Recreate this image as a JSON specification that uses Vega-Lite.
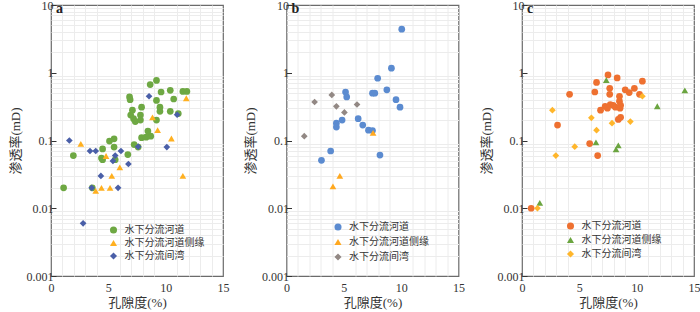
{
  "$schema": "https://vega.github.io/schema/vega-lite/v6.json",
  "padding": {"left": 8, "top": -2, "right": 0, "bottom": 0},
  "background": "white",
  "data": {"values": [
    {"p":"a","t":"水下分流河道","por":1.1,"perm":0.02},
    {"p":"a","t":"水下分流河道","por":1.95,"perm":0.06},
    {"p":"a","t":"水下分流河道","por":3.6,"perm":0.02},
    {"p":"a","t":"水下分流河道","por":4.4,"perm":0.055},
    {"p":"a","t":"水下分流河道","por":4.5,"perm":0.075},
    {"p":"a","t":"水下分流河道","por":4.5,"perm":0.052},
    {"p":"a","t":"水下分流河道","por":5.1,"perm":0.098},
    {"p":"a","t":"水下分流河道","por":5.5,"perm":0.106},
    {"p":"a","t":"水下分流河道","por":5.5,"perm":0.08},
    {"p":"a","t":"水下分流河道","por":5.6,"perm":0.052},
    {"p":"a","t":"水下分流河道","por":6.7,"perm":0.062},
    {"p":"a","t":"水下分流河道","por":7.25,"perm":0.087},
    {"p":"a","t":"水下分流河道","por":7.6,"perm":0.08},
    {"p":"a","t":"水下分流河道","por":7.9,"perm":0.11},
    {"p":"a","t":"水下分流河道","por":8.3,"perm":0.112},
    {"p":"a","t":"水下分流河道","por":8.7,"perm":0.116},
    {"p":"a","t":"水下分流河道","por":8.45,"perm":0.138},
    {"p":"a","t":"水下分流河道","por":6.95,"perm":0.237},
    {"p":"a","t":"水下分流河道","por":7.2,"perm":0.21},
    {"p":"a","t":"水下分流河道","por":7.35,"perm":0.19},
    {"p":"a","t":"水下分流河道","por":7.8,"perm":0.237},
    {"p":"a","t":"水下分流河道","por":7.8,"perm":0.2},
    {"p":"a","t":"水下分流河道","por":7.9,"perm":0.31},
    {"p":"a","t":"水下分流河道","por":7.1,"perm":0.28},
    {"p":"a","t":"水下分流河道","por":6.85,"perm":0.44},
    {"p":"a","t":"水下分流河道","por":6.9,"perm":0.4},
    {"p":"a","t":"水下分流河道","por":8.65,"perm":0.67},
    {"p":"a","t":"水下分流河道","por":9.2,"perm":0.77},
    {"p":"a","t":"水下分流河道","por":9.6,"perm":0.52},
    {"p":"a","t":"水下分流河道","por":10.4,"perm":0.55},
    {"p":"a","t":"水下分流河道","por":10.7,"perm":0.41},
    {"p":"a","t":"水下分流河道","por":9.2,"perm":0.39},
    {"p":"a","t":"水下分流河道","por":11.5,"perm":0.53},
    {"p":"a","t":"水下分流河道","por":11.85,"perm":0.53},
    {"p":"a","t":"水下分流河道","por":9.5,"perm":0.31},
    {"p":"a","t":"水下分流河道","por":9.5,"perm":0.27},
    {"p":"a","t":"水下分流河道","por":10.4,"perm":0.27},
    {"p":"a","t":"水下分流河道","por":9.2,"perm":0.2},
    {"p":"a","t":"水下分流河道","por":11.1,"perm":0.25},
    {"p":"a","t":"水下分流河道侧缘","por":2.6,"perm":0.089},
    {"p":"a","t":"水下分流河道侧缘","por":4.8,"perm":0.059},
    {"p":"a","t":"水下分流河道侧缘","por":6.0,"perm":0.04},
    {"p":"a","t":"水下分流河道侧缘","por":5.3,"perm":0.03},
    {"p":"a","t":"水下分流河道侧缘","por":11.5,"perm":0.03},
    {"p":"a","t":"水下分流河道侧缘","por":3.9,"perm":0.018},
    {"p":"a","t":"水下分流河道侧缘","por":4.4,"perm":0.02},
    {"p":"a","t":"水下分流河道侧缘","por":5.15,"perm":0.02},
    {"p":"a","t":"水下分流河道侧缘","por":8.85,"perm":0.22},
    {"p":"a","t":"水下分流河道侧缘","por":9.3,"perm":0.142},
    {"p":"a","t":"水下分流河道侧缘","por":10.5,"perm":0.107},
    {"p":"a","t":"水下分流河道侧缘","por":11.8,"perm":0.42},
    {"p":"a","t":"水下分流间湾","por":1.6,"perm":0.1},
    {"p":"a","t":"水下分流间湾","por":3.4,"perm":0.07},
    {"p":"a","t":"水下分流间湾","por":3.9,"perm":0.07},
    {"p":"a","t":"水下分流间湾","por":6.1,"perm":0.07},
    {"p":"a","t":"水下分流间湾","por":7.6,"perm":0.081},
    {"p":"a","t":"水下分流间湾","por":10.1,"perm":0.08},
    {"p":"a","t":"水下分流间湾","por":5.6,"perm":0.06},
    {"p":"a","t":"水下分流间湾","por":5.4,"perm":0.05},
    {"p":"a","t":"水下分流间湾","por":6.75,"perm":0.045},
    {"p":"a","t":"水下分流间湾","por":4.35,"perm":0.03},
    {"p":"a","t":"水下分流间湾","por":3.55,"perm":0.02},
    {"p":"a","t":"水下分流间湾","por":5.85,"perm":0.02},
    {"p":"a","t":"水下分流间湾","por":2.8,"perm":0.006},
    {"p":"a","t":"水下分流间湾","por":8.55,"perm":0.45},
    {"p":"a","t":"水下分流间湾","por":11.0,"perm":0.24},
    {"p":"b","t":"水下分流河道","por":10.05,"perm":4.4},
    {"p":"b","t":"水下分流河道","por":9.15,"perm":1.17},
    {"p":"b","t":"水下分流河道","por":7.95,"perm":0.83},
    {"p":"b","t":"水下分流河道","por":8.75,"perm":0.56},
    {"p":"b","t":"水下分流河道","por":7.5,"perm":0.5},
    {"p":"b","t":"水下分流河道","por":7.7,"perm":0.5},
    {"p":"b","t":"水下分流河道","por":5.15,"perm":0.52},
    {"p":"b","t":"水下分流河道","por":5.25,"perm":0.44},
    {"p":"b","t":"水下分流河道","por":9.55,"perm":0.4},
    {"p":"b","t":"水下分流河道","por":9.9,"perm":0.31},
    {"p":"b","t":"水下分流河道","por":4.85,"perm":0.2},
    {"p":"b","t":"水下分流河道","por":4.35,"perm":0.18},
    {"p":"b","t":"水下分流河道","por":4.35,"perm":0.158},
    {"p":"b","t":"水下分流河道","por":6.25,"perm":0.21},
    {"p":"b","t":"水下分流河道","por":6.65,"perm":0.169},
    {"p":"b","t":"水下分流河道","por":7.15,"perm":0.142},
    {"p":"b","t":"水下分流河道","por":7.5,"perm":0.14},
    {"p":"b","t":"水下分流河道","por":3.85,"perm":0.07},
    {"p":"b","t":"水下分流河道","por":3.05,"perm":0.051},
    {"p":"b","t":"水下分流河道","por":8.15,"perm":0.061},
    {"p":"b","t":"水下分流河道侧缘","por":7.55,"perm":0.13},
    {"p":"b","t":"水下分流河道侧缘","por":4.65,"perm":0.03},
    {"p":"b","t":"水下分流河道侧缘","por":4.05,"perm":0.021},
    {"p":"b","t":"水下分流间湾","por":2.45,"perm":0.37},
    {"p":"b","t":"水下分流间湾","por":3.95,"perm":0.47},
    {"p":"b","t":"水下分流间湾","por":4.35,"perm":0.32},
    {"p":"b","t":"水下分流间湾","por":5.05,"perm":0.26},
    {"p":"b","t":"水下分流间湾","por":6.15,"perm":0.34},
    {"p":"b","t":"水下分流间湾","por":1.55,"perm":0.116},
    {"p":"c","t":"水下分流河道","por":7.5,"perm":0.93},
    {"p":"c","t":"水下分流河道","por":8.3,"perm":0.84},
    {"p":"c","t":"水下分流河道","por":6.5,"perm":0.72},
    {"p":"c","t":"水下分流河道","por":10.5,"perm":0.75},
    {"p":"c","t":"水下分流河道","por":4.15,"perm":0.48},
    {"p":"c","t":"水下分流河道","por":6.35,"perm":0.52},
    {"p":"c","t":"水下分流河道","por":7.65,"perm":0.59},
    {"p":"c","t":"水下分流河道","por":7.65,"perm":0.48},
    {"p":"c","t":"水下分流河道","por":9.0,"perm":0.56},
    {"p":"c","t":"水下分流河道","por":9.35,"perm":0.51},
    {"p":"c","t":"水下分流河道","por":9.8,"perm":0.59},
    {"p":"c","t":"水下分流河道","por":10.25,"perm":0.48},
    {"p":"c","t":"水下分流河道","por":8.5,"perm":0.45},
    {"p":"c","t":"水下分流河道","por":8.5,"perm":0.38},
    {"p":"c","t":"水下分流河道","por":6.85,"perm":0.28},
    {"p":"c","t":"水下分流河道","por":7.25,"perm":0.32},
    {"p":"c","t":"水下分流河道","por":7.7,"perm":0.34},
    {"p":"c","t":"水下分流河道","por":8.15,"perm":0.31},
    {"p":"c","t":"水下分流河道","por":8.55,"perm":0.3},
    {"p":"c","t":"水下分流河道","por":7.45,"perm":0.3},
    {"p":"c","t":"水下分流河道","por":7.95,"perm":0.33},
    {"p":"c","t":"水下分流河道","por":8.6,"perm":0.33},
    {"p":"c","t":"水下分流河道","por":8.4,"perm":0.205},
    {"p":"c","t":"水下分流河道","por":8.6,"perm":0.22},
    {"p":"c","t":"水下分流河道","por":3.1,"perm":0.169},
    {"p":"c","t":"水下分流河道","por":5.9,"perm":0.09},
    {"p":"c","t":"水下分流河道","por":6.6,"perm":0.06},
    {"p":"c","t":"水下分流河道","por":0.8,"perm":0.01},
    {"p":"c","t":"水下分流河道侧缘","por":7.35,"perm":0.78},
    {"p":"c","t":"水下分流河道侧缘","por":14.2,"perm":0.55},
    {"p":"c","t":"水下分流河道侧缘","por":11.8,"perm":0.32},
    {"p":"c","t":"水下分流河道侧缘","por":6.45,"perm":0.094},
    {"p":"c","t":"水下分流河道侧缘","por":8.4,"perm":0.085},
    {"p":"c","t":"水下分流河道侧缘","por":8.2,"perm":0.074},
    {"p":"c","t":"水下分流河道侧缘","por":1.55,"perm":0.012},
    {"p":"c","t":"水下分流间湾","por":2.65,"perm":0.28},
    {"p":"c","t":"水下分流间湾","por":6.05,"perm":0.216},
    {"p":"c","t":"水下分流间湾","por":6.5,"perm":0.142},
    {"p":"c","t":"水下分流间湾","por":7.85,"perm":0.18},
    {"p":"c","t":"水下分流间湾","por":9.45,"perm":0.19},
    {"p":"c","t":"水下分流间湾","por":10.5,"perm":0.45},
    {"p":"c","t":"水下分流间湾","por":4.6,"perm":0.081},
    {"p":"c","t":"水下分流间湾","por":2.95,"perm":0.06},
    {"p":"c","t":"水下分流间湾","por":1.35,"perm":0.01}
  ]},
  "spacing": 13.5,
  "hconcat": [
    {
      "width": 172, "height": 271,
      "title": {"text": "a", "anchor": "start", "frame": "group", "offset": 0, "dy": 17, "dx": 5},
      "transform": [{"filter": "datum.p === 'a'"}],
      "layer": [
        {
          "mark": {"type": "point", "opacity": 0},
          "encoding": {
            "x": {"field": "por", "type": "quantitative", "scale": {"domain": [0, 15], "nice": false}, "axis": {"orient": "top", "title": null, "labels": false, "ticks": false, "domain": false, "values": [1,2,3,4,6,7,8,9,11,12,13,14], "gridColor": "#ececec"}},
            "y": {"field": "perm", "type": "quantitative", "scale": {"type": "log", "domain": [0.001, 10], "nice": false}, "axis": {"orient": "right", "title": null, "labels": false, "ticks": false, "domain": false, "values": [0.002,0.003,0.004,0.005,0.006,0.007,0.008,0.009,0.02,0.03,0.04,0.05,0.06,0.07,0.08,0.09,0.2,0.3,0.4,0.5,0.6,0.7,0.8,0.9,2,3,4,5,6,7,8,9], "gridColor": "#ececec"}}
          }
        },
        {
          "mark": {"type": "point", "filled": true, "opacity": 1, "size": 45},
          "encoding": {
            "x": {"field": "por", "type": "quantitative", "axis": {"orient": "bottom", "title": "孔隙度(%)", "values": [0, 5, 10, 15]}},
            "y": {"field": "perm", "type": "quantitative", "axis": {"orient": "left", "title": "渗透率(mD)", "values": [0.001, 0.01, 0.1, 1, 10], "format": "~g"}},
            "color": {"field": "t", "type": "nominal", "scale": {"domain": ["水下分流河道", "水下分流河道侧缘", "水下分流间湾"], "range": ["#6EA843", "#FFB020", "#4A5FA8"]}, "legend": {"title": null, "orient": "none", "legendX": 57.5, "legendY": 220}},
            "shape": {"field": "t", "type": "nominal", "scale": {"domain": ["水下分流河道", "水下分流河道侧缘", "水下分流间湾"], "range": ["circle", "triangle-up", "diamond"]}, "legend": {"title": null, "orient": "none", "legendX": 57.5, "legendY": 220}}
          }
        }
      ],
      "resolve": {"axis": {"x": "independent", "y": "independent"}}
    },
    {
      "width": 172, "height": 271,
      "title": {"text": "b", "anchor": "start", "frame": "group", "offset": 0, "dy": 17, "dx": 5},
      "transform": [{"filter": "datum.p === 'b'"}],
      "layer": [
        {
          "mark": {"type": "point", "opacity": 0},
          "encoding": {
            "x": {"field": "por", "type": "quantitative", "scale": {"domain": [0, 15], "nice": false}, "axis": {"orient": "top", "title": null, "labels": false, "ticks": false, "domain": false, "values": [1,2,3,4,6,7,8,9,11,12,13,14], "gridColor": "#ececec"}},
            "y": {"field": "perm", "type": "quantitative", "scale": {"type": "log", "domain": [0.001, 10], "nice": false}, "axis": {"orient": "right", "title": null, "labels": false, "ticks": false, "domain": false, "values": [0.002,0.003,0.004,0.005,0.006,0.007,0.008,0.009,0.02,0.03,0.04,0.05,0.06,0.07,0.08,0.09,0.2,0.3,0.4,0.5,0.6,0.7,0.8,0.9,2,3,4,5,6,7,8,9], "gridColor": "#ececec"}}
          }
        },
        {
          "mark": {"type": "point", "filled": true, "opacity": 1, "size": 45},
          "encoding": {
            "x": {"field": "por", "type": "quantitative", "axis": {"orient": "bottom", "title": "孔隙度(%)", "values": [0, 5, 10, 15]}},
            "y": {"field": "perm", "type": "quantitative", "axis": {"orient": "left", "title": "渗透率(mD)", "values": [0.001, 0.01, 0.1, 1, 10], "format": "~g"}},
            "color": {"field": "t", "type": "nominal", "scale": {"domain": ["水下分流河道", "水下分流河道侧缘", "水下分流间湾"], "range": ["#5B8BD0", "#FFA81F", "#928884"]}, "legend": {"title": null, "orient": "none", "legendX": 46.5, "legendY": 217, "rowPadding": 5}},
            "shape": {"field": "t", "type": "nominal", "scale": {"domain": ["水下分流河道", "水下分流河道侧缘", "水下分流间湾"], "range": ["circle", "triangle-up", "diamond"]}, "legend": {"title": null, "orient": "none", "legendX": 46.5, "legendY": 217, "rowPadding": 5}}
          }
        }
      ],
      "resolve": {"axis": {"x": "independent", "y": "independent"}}
    },
    {
      "width": 172, "height": 271,
      "title": {"text": "c", "anchor": "start", "frame": "group", "offset": 0, "dy": 17, "dx": 5},
      "transform": [{"filter": "datum.p === 'c'"}],
      "layer": [
        {
          "mark": {"type": "point", "opacity": 0},
          "encoding": {
            "x": {"field": "por", "type": "quantitative", "scale": {"domain": [0, 15], "nice": false}, "axis": {"orient": "top", "title": null, "labels": false, "ticks": false, "domain": false, "values": [1,2,3,4,6,7,8,9,11,12,13,14], "gridColor": "#ececec"}},
            "y": {"field": "perm", "type": "quantitative", "scale": {"type": "log", "domain": [0.001, 10], "nice": false}, "axis": {"orient": "right", "title": null, "labels": false, "ticks": false, "domain": false, "values": [0.002,0.003,0.004,0.005,0.006,0.007,0.008,0.009,0.02,0.03,0.04,0.05,0.06,0.07,0.08,0.09,0.2,0.3,0.4,0.5,0.6,0.7,0.8,0.9,2,3,4,5,6,7,8,9], "gridColor": "#ececec"}}
          }
        },
        {
          "mark": {"type": "point", "filled": true, "opacity": 1, "size": 45},
          "encoding": {
            "x": {"field": "por", "type": "quantitative", "axis": {"orient": "bottom", "title": "孔隙度(%)", "values": [0, 5, 10, 15]}},
            "y": {"field": "perm", "type": "quantitative", "axis": {"orient": "left", "title": "渗透率(mD)", "values": [0.001, 0.01, 0.1, 1, 10], "format": "~g"}},
            "color": {"field": "t", "type": "nominal", "scale": {"domain": ["水下分流河道", "水下分流河道侧缘", "水下分流间湾"], "range": ["#EE7030", "#6BA540", "#FFB62B"]}, "legend": {"title": null, "orient": "none", "legendX": 43.5, "legendY": 216, "rowPadding": 4}},
            "shape": {"field": "t", "type": "nominal", "scale": {"domain": ["水下分流河道", "水下分流河道侧缘", "水下分流间湾"], "range": ["circle", "triangle-up", "diamond"]}, "legend": {"title": null, "orient": "none", "legendX": 43.5, "legendY": 216, "rowPadding": 4}}
          }
        }
      ],
      "resolve": {"axis": {"x": "independent", "y": "independent"}}
    }
  ],
  "resolve": {"scale": {"color": "independent", "shape": "independent"}, "legend": {"color": "independent", "shape": "independent"}},
  "config": {
    "view": {"stroke": "#6b6b6b", "strokeWidth": 1.2},
    "title": {"font": "Liberation Serif", "fontSize": 14, "fontWeight": "bold", "color": "#222"},
    "axis": {
      "labelFont": "Liberation Serif", "labelFontSize": 12, "labelColor": "#333",
      "titleFont": "Liberation Serif, Noto Sans CJK SC", "titleFontSize": 13, "titleFontWeight": "normal", "titleColor": "#333",
      "domain": false, "labelFlush": false, "labelOverlap": false, "gridOpacity": 1, "gridColor": "#d6d6d6"
    },
    "axisBottom": {"ticks": false, "labelPadding": 6, "titlePadding": 3},
    "axisLeft": {"tickColor": "#333", "tickSize": -5, "labelPadding": 3, "titlePadding": 4},
    "legend": {"labelFont": "Noto Sans CJK SC", "labelFontSize": 10, "labelColor": "#333", "symbolSize": 50, "rowPadding": 3, "padding": 0, "labelOffset": 6}
  }
}
